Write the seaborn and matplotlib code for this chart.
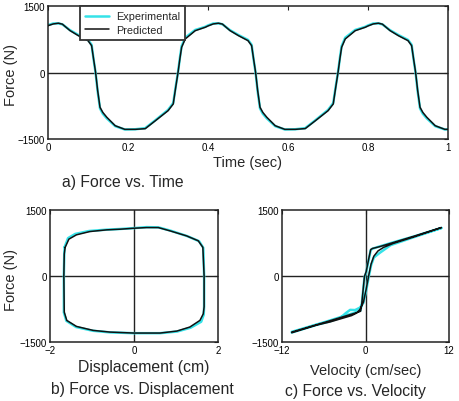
import matplotlib
matplotlib.use("Agg")
import matplotlib.pyplot as plt
import seaborn as sns

# ---------------- data ----------------
# a) Force vs Time
time_s = [0.000, 0.013, 0.026, 0.036, 0.055, 0.076, 0.100, 0.109, 0.114, 0.119, 0.124, 0.130, 0.137, 0.147,
          0.168, 0.192, 0.218, 0.243, 0.268, 0.300, 0.313, 0.319, 0.325, 0.330, 0.334, 0.343, 0.368, 0.393,
          0.400, 0.413, 0.426, 0.436, 0.455, 0.476, 0.500, 0.509, 0.514, 0.519, 0.524, 0.530, 0.537, 0.547,
          0.568, 0.592, 0.618, 0.643, 0.668, 0.700, 0.713, 0.719, 0.725, 0.730, 0.734, 0.743, 0.768, 0.793,
          0.800, 0.813, 0.826, 0.836, 0.855, 0.876, 0.900, 0.909, 0.914, 0.919, 0.924, 0.930, 0.937, 0.947,
          0.968, 0.992, 1.000]
force_pred_t = [1056, 1095, 1112, 1090, 945, 830, 718, 605, 300, 0, -400, -785, -900, -1010,
                -1200, -1282, -1282, -1267, -1090, -862, -711, -350, 0, 330, 568, 756, 943, 1020,
                1050, 1095, 1112, 1092, 945, 832, 718, 605, 300, 0, -400, -785, -900, -1010,
                -1200, -1282, -1282, -1265, -1090, -862, -711, -350, 0, 330, 568, 756, 943, 1020,
                1050, 1095, 1112, 1090, 945, 830, 718, 605, 300, 0, -400, -785, -900, -1010,
                -1200, -1282, -1282]
force_exp_t = [1070, 1105, 1108, 1085, 955, 845, 735, 625, 290, -10, -420, -810, -930, -1035,
               -1210, -1285, -1280, -1255, -1080, -845, -690, -330, 10, 350, 595, 785, 960, 1030,
               1062, 1105, 1108, 1088, 955, 845, 735, 625, 290, -10, -420, -810, -930, -1035,
               -1210, -1285, -1280, -1255, -1080, -845, -690, -330, 10, 350, 595, 785, 960, 1030,
               1062, 1105, 1108, 1085, 955, 845, 735, 625, 290, -10, -420, -810, -930, -1035,
               -1210, -1285, -1280]

# b) Force vs Displacement (closed loop)
disp_pred = [-1.64, -1.55, -1.37, -1.05, -0.65, -0.33, 0.00, 0.30, 0.58, 0.86, 1.25, 1.53, 1.64, 1.67,
             1.67, 1.65, 1.57, 1.33, 1.02, 0.62, 0.00, -0.57, -0.97, -1.37, -1.60, -1.66, -1.67, -1.66, -1.64]
force_pred_d = [648, 837, 935, 1010, 1048, 1063, 1085, 1100, 1100, 1025, 912, 800, 650, 0,
                -700, -860, -1010, -1160, -1252, -1297, -1297, -1275, -1237, -1146, -1010, -822, 0, 500, 648]
disp_exp = [-1.65, -1.57, -1.40, -1.07, -0.66, -0.33, 0.00, 0.30, 0.58, 0.87, 1.27, 1.55, 1.65, 1.67,
            1.67, 1.66, 1.60, 1.35, 1.03, 0.62, 0.00, -0.57, -0.98, -1.38, -1.61, -1.67, -1.67, -1.66, -1.65]
force_exp_d = [660, 860, 955, 1022, 1052, 1068, 1088, 1110, 1105, 1030, 905, 790, 640, 0,
               -690, -880, -1040, -1175, -1262, -1300, -1300, -1282, -1245, -1160, -1020, -830, 0, 510, 660]

# c) Force vs Velocity (closed loop)
vel_pred = [10.9, 7.0, 4.0, 2.0, 1.0, 0.75, 0.45, 0.10, -0.15, -0.35, -0.55, -0.70, -1.2, -3.0, -6.0, -10.6,
            -10.6, -7.0, -5.1, -2.0, -1.3, -0.8, -0.3, 0.1, 0.45, 0.8, 1.2, 1.8, 2.6, 4.0, 7.0, 10.9]
force_pred_v = [1100, 905, 760, 665, 625, 600, 380, 100, -10, -330, -650, -800, -830, -915, -1060, -1275,
                -1290, -1115, -1045, -900, -845, -760, -595, -300, 0, 270, 450, 570, 650, 740, 890, 1100]
vel_exp = [10.9, 7.0, 4.0, 2.0, 1.0, 0.75, 0.45, 0.10, -0.15, -0.35, -0.55, -0.75, -1.5, -3.0, -6.0, -10.6,
           -10.6, -7.0, -5.1, -3.6, -2.8, -2.2, -1.5, -0.8, -0.3, 0.1, 0.45, 0.8, 1.2, 2.0, 2.8, 3.6, 7.0, 10.9]
force_exp_v = [1090, 900, 765, 670, 620, 590, 360, 80, -30, -350, -660, -790, -835, -905, -1055, -1270,
               -1285, -1110, -1030, -950, -840, -770, -775, -720, -610, -330, -30, 240, 420, 520, 610, 700, 885, 1090]

time_ticks = [0, 0.2, 0.4, 0.6, 0.8, 1]
time_tick_labels = ["0", "0.2", "0.4", "0.6", "0.8", "1"]
force_ticks = [-1500, 0, 1500]
force_tick_labels = ["\u22121500", "0", "1500"]
disp_ticks = [-2, 0, 2]
disp_tick_labels = ["\u22122", "0", "2"]
vel_ticks = [-12, 0, 12]
vel_tick_labels = ["\u221212", "0", "12"]

# ---------------- style ----------------
sns.set_style("white")
plt.rcParams['font.family'] = ['Liberation Sans', 'DejaVu Sans']

CYAN = '#35e2e8'
BLACK = '#111111'
AXC = '#222222'

fig = plt.figure(figsize=(4.59, 4.02), dpi=100)
ax1 = fig.add_axes([0.1046, 0.6517, 0.8715, 0.3309])
ax2 = fig.add_axes([0.1089, 0.1468, 0.3660, 0.3284])
ax3 = fig.add_axes([0.6144, 0.1468, 0.3638, 0.3284])


def style(ax):
    for s in ax.spines.values():
        s.set_visible(True)
        s.set_color(AXC)
        s.set_linewidth(1.1)
    ax.tick_params(direction='in', length=3, width=0.8, top=True, right=True,
                   labelsize=7, pad=2.5, colors=AXC, labelcolor='black')


# a)
ax1.axhline(0, color=AXC, lw=1.0, zorder=1)
sns.lineplot(x=time_s, y=force_exp_t, ax=ax1, color=CYAN, lw=1.8, label='Experimental',
             sort=False, estimator=None, zorder=2)
sns.lineplot(x=time_s, y=force_pred_t, ax=ax1, color=BLACK, lw=1.1, label='Predicted',
             sort=False, estimator=None, zorder=3)
ax1.set_xlim(0, 1)
ax1.set_ylim(-1500, 1500)
ax1.set_xticks(time_ticks)
ax1.set_xticklabels(time_tick_labels)
ax1.set_yticks(force_ticks)
ax1.set_yticklabels(force_tick_labels)
style(ax1)
ax1.set_xlabel('Time (sec)', fontsize=10.5)
ax1.set_ylabel('Force (N)', fontsize=10.5)
ax1.xaxis.set_label_coords(0.4975, -0.173)
ax1.xaxis.label.set_verticalalignment('center')
ax1.yaxis.set_label_coords(-0.0925, 0.49)
ax1.yaxis.label.set_verticalalignment('center')
leg = ax1.legend(loc='upper left', bbox_to_anchor=(0.08, 1.0), frameon=True, fancybox=False,
                 edgecolor='#333333', fontsize=7.8, borderaxespad=0, handlelength=2.2,
                 labelspacing=0.3, borderpad=0.5, handletextpad=0.6)
leg.get_frame().set_linewidth(1.3)
leg.get_frame().set_facecolor('white')
leg.get_frame().set_alpha(1)

# b)
ax2.axhline(0, color=AXC, lw=1.0, zorder=1)
ax2.axvline(0, color=AXC, lw=1.0, zorder=1)
sns.lineplot(x=disp_exp, y=force_exp_d, ax=ax2, color=CYAN, lw=1.8, sort=False, estimator=None,
             legend=False, zorder=2)
sns.lineplot(x=disp_pred, y=force_pred_d, ax=ax2, color=BLACK, lw=1.1, sort=False, estimator=None,
             legend=False, zorder=3)
ax2.set_xlim(-2, 2)
ax2.set_ylim(-1500, 1500)
ax2.set_xticks(disp_ticks)
ax2.set_xticklabels(disp_tick_labels)
ax2.set_yticks(force_ticks)
ax2.set_yticklabels(force_tick_labels)
style(ax2)
ax2.set_xlabel('Displacement (cm)', fontsize=11.3)
ax2.set_ylabel('Force (N)', fontsize=10.5)
ax2.xaxis.set_label_coords(0.556, -0.189)
ax2.xaxis.label.set_verticalalignment('center')
ax2.yaxis.set_label_coords(-0.232, 0.477)
ax2.yaxis.label.set_verticalalignment('center')

# c)
ax3.axhline(0, color=AXC, lw=1.0, zorder=1)
ax3.axvline(0, color=AXC, lw=1.0, zorder=1)
sns.lineplot(x=vel_exp, y=force_exp_v, ax=ax3, color=CYAN, lw=1.8, sort=False, estimator=None,
             legend=False, zorder=2)
sns.lineplot(x=vel_pred, y=force_pred_v, ax=ax3, color=BLACK, lw=1.1, sort=False, estimator=None,
             legend=False, zorder=3)
ax3.set_xlim(-12, 12)
ax3.set_ylim(-1500, 1500)
ax3.set_xticks(vel_ticks)
ax3.set_xticklabels(vel_tick_labels)
ax3.set_yticks(force_ticks)
ax3.set_yticklabels(force_tick_labels)
style(ax3)
ax3.set_xlabel('Velocity (cm/sec)', fontsize=10.5)
ax3.set_ylabel('')
ax3.xaxis.set_label_coords(0.503, -0.212)
ax3.xaxis.label.set_verticalalignment('center')

# captions
fig.text(62 / 459, 1 - 183 / 402, 'a) Force vs. Time', fontsize=11.3, ha='left', va='center')
fig.text(51 / 459, 1 - 390 / 402, 'b) Force vs. Displacement', fontsize=11.3, ha='left', va='center')
fig.text(285 / 459, 1 - 392 / 402, 'c) Force vs. Velocity', fontsize=11.3, ha='left', va='center')

fig.savefig('out.png', dpi=100)
